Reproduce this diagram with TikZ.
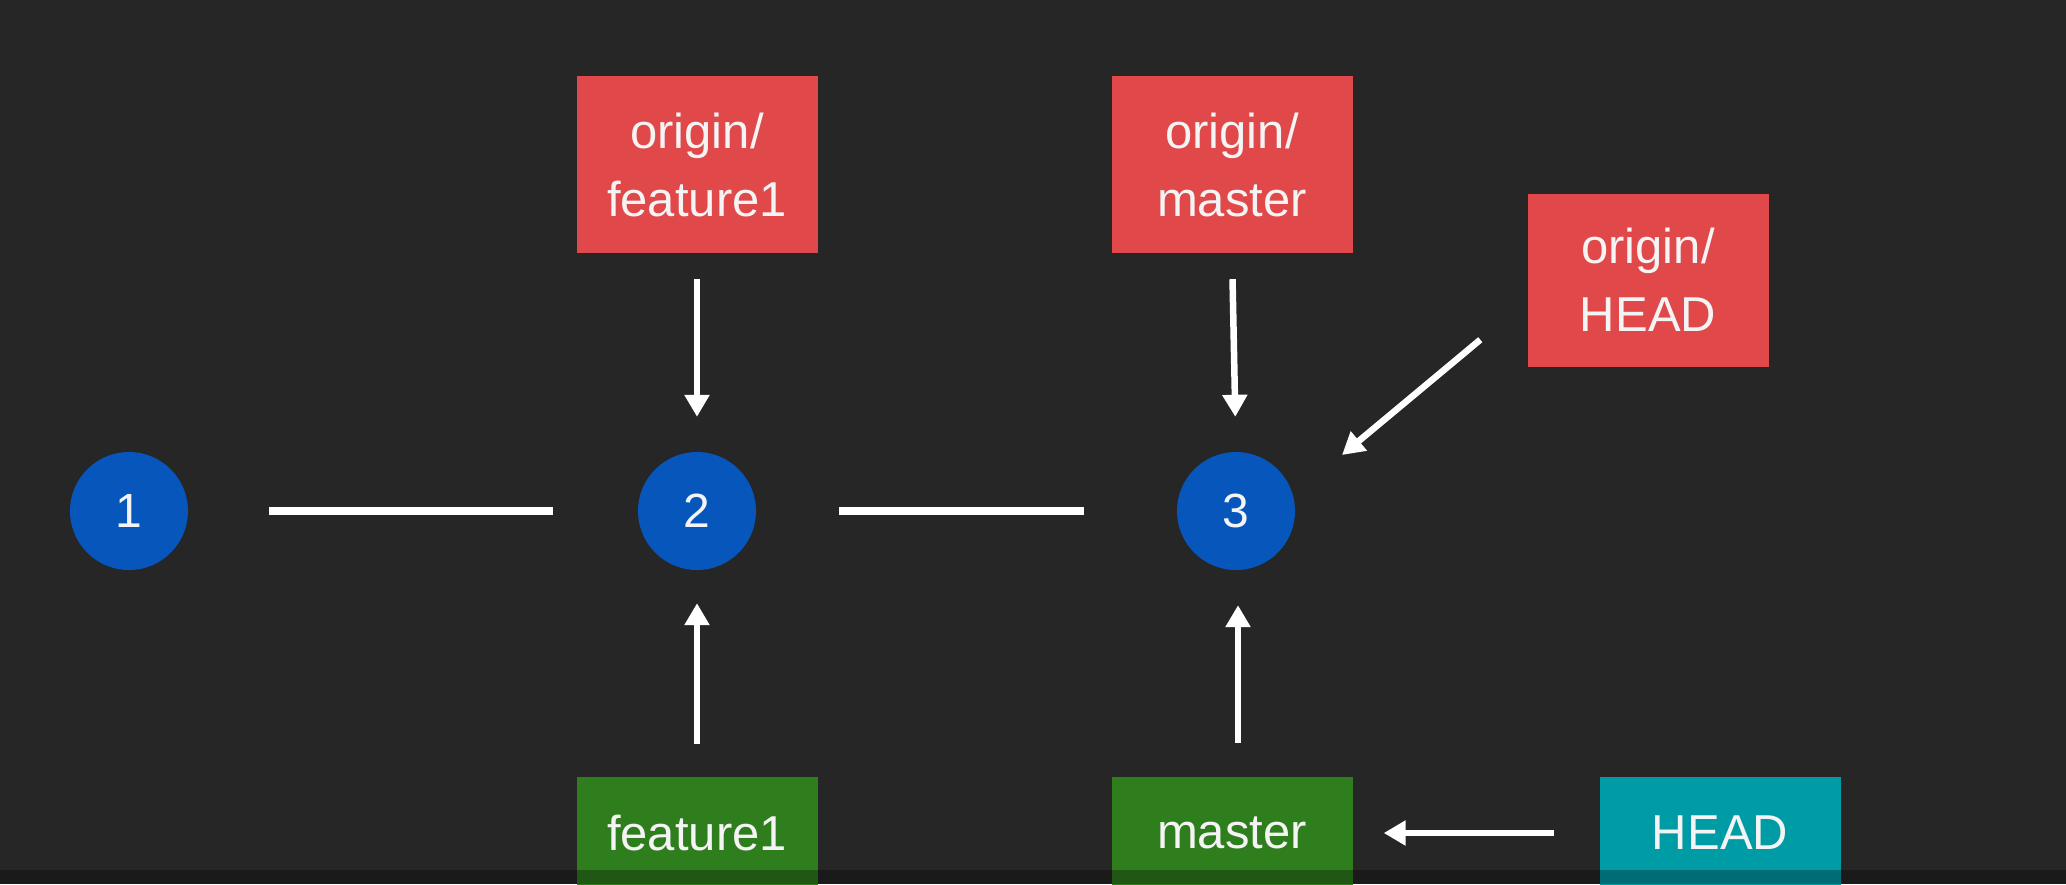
\documentclass[tikz,border=0pt]{standalone}
\usepackage{fontspec}
\setmainfont{Liberation Sans}
\usetikzlibrary{arrows.meta,calc}

\definecolor{bg}{HTML}{262626}
\definecolor{commitblue}{HTML}{0756BC}
\definecolor{remotered}{HTML}{E0484A}
\definecolor{branchgreen}{HTML}{2E7E1E}
\definecolor{headcyan}{HTML}{009CA6}
\definecolor{labeltext}{HTML}{F4F4F4}

\tikzset{
  commit/.style={circle, fill=commitblue, minimum size=118pt, inner sep=0pt,
    text=labeltext, font=\fontsize{48}{58}\selectfont},
  refbox/.style={rectangle, minimum width=241pt, inner sep=0pt,
    text=labeltext, align=center, font=\fontsize{49}{68}\selectfont},
  remote/.style={refbox, fill=remotered, minimum height=177pt},
  branch/.style={refbox, fill=branchgreen, minimum height=130pt},
  headref/.style={refbox, fill=headcyan, minimum height=130pt},
  link/.style={draw=white, line width=7.5pt},
  pointer/.style={draw=white, line width=6.5pt,
    -{Triangle[length=22pt,width=24pt]}}
}

\begin{document}
\begin{tikzpicture}[x=1pt, y=-1pt]
  \useasboundingbox (0,0) rectangle (2066,884);
  \fill[bg] (0,0) rectangle (2066,884);

  \begin{scope}
    \clip (0,0) rectangle (2066,884);

    % commits
    \node[commit] (c1) at (129,511) {1};
    \node[commit] (c2) at (697,511) {2};
    \node[commit] (c3) at (1236,511) {3};

    % remote-tracking refs
    \node[remote] (of1) at (697,164.5) {origin/\\feature1};
    \node[remote] (om)  at (1232,164.5) {origin/\\master};
    \node[remote, minimum height=173pt] (oh) at (1648,280) {origin/\\HEAD};

    % local branches and HEAD (run off the bottom edge)
    \node[branch] (f1) at (697,842) {\raisebox{18pt}{feature1}};
    \node[branch] (m) at (1232,842) {\raisebox{18pt}{master}};
    \node[headref] (h) at (1720,842) {\raisebox{18pt}{HEAD}};

    % history
    \draw[link, shorten <=81pt, shorten >=85pt] (c1) -- (c2);
    \draw[link, shorten <=83pt, shorten >=93pt] (c2) -- (c3);

    % refs pointing at commits
    \draw[pointer, shorten <=26pt, shorten >=35pt] (of1.south) -- (c2.north);
    \draw[pointer, shorten <=26pt, shorten >=35pt] (om.south) -- (c3.north);
    \draw[pointer, shorten <=33pt, shorten >=33pt] (f1.north) -- (c2.south);
    \draw[pointer, shorten <=34pt, shorten >=35pt] ($(m.north)+(6,0)$) -- ($(c3.south)+(2,0)$);
    \draw[pointer] ($(oh.south west)+(-47,-27)$) -- ($(c3)+(106,-56)$);
    \draw[pointer, shorten <=45pt, shorten >=31pt] ($(h.west)+(0,-9)$) -- ($(m.east)+(0,-9)$);

    % darkened strip along the bottom edge
    \fill[black, opacity=0.3] (0,870) rectangle (2066,884);
  \end{scope}
\end{tikzpicture}
\end{document}
